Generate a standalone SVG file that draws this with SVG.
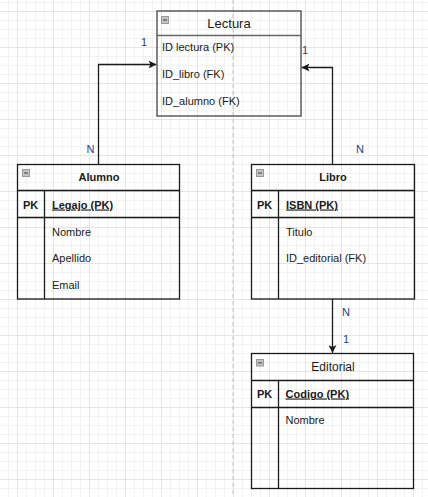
<svg xmlns="http://www.w3.org/2000/svg" width="428" height="497" viewBox="0 0 428 497">
<style>
text{font-family:"Liberation Sans",Arial,sans-serif;fill:#1a1a1a}
.row{font-size:11px}
.pk{font-size:11px;font-weight:bold}
.uk{font-size:11px;font-weight:bold;text-decoration:underline}
.ttl{font-size:11px;font-weight:bold;text-anchor:middle}
.big{font-size:13px;text-anchor:middle}
.mid{font-size:12px;text-anchor:middle}
.lbl{font-size:11px;fill:#1f3f86}
.box{fill:none;stroke:#1a1a1a;stroke-width:1.3}
.box2{fill:none;stroke:#666;stroke-width:1.6}
.ln{stroke:#1a1a1a;stroke-width:1.3;fill:none}
.edge{stroke:#1a1a1a;stroke-width:1.3;fill:none}
.ic{fill:#c4c4c4;stroke:#9a9a9a;stroke-width:1}
.icm{stroke:#555;stroke-width:1.2}
</style>
<defs>
<pattern id="minor" patternUnits="userSpaceOnUse" x="17" y="11" width="9" height="9">
<path d="M0.5 0V9M0 0.5H9" stroke="#f2f2f2" stroke-width="1"/>
</pattern>
<pattern id="major" patternUnits="userSpaceOnUse" x="17" y="11" width="36" height="36">
<path d="M0.5 0V36M0 0.5H36" stroke="#e4e4e4" stroke-width="1"/>
</pattern>
<marker id="arr" viewBox="0 0 10 10" refX="10" refY="5" markerWidth="8" markerHeight="8" markerUnits="userSpaceOnUse" orient="auto">
<path d="M0 0L10 5L0 10L2.5 5Z" fill="#1a1a1a"/>
</marker>
</defs>
<rect width="428" height="497" fill="#fff"/>
<rect width="428" height="497" fill="url(#minor)"/>
<rect width="428" height="497" fill="url(#major)"/>
<line x1="233" y1="0" x2="233" y2="497" stroke="#c4c4c4" stroke-width="1" stroke-dasharray="4 3"/>

<g id="connectors">
<path class="edge" d="M98.5 164.5V64.5H156.5" marker-end="url(#arr)"/>
<path class="edge" d="M332.5 164.5V67.5H301.5" marker-end="url(#arr)"/>
<path class="edge" d="M332.5 299V353" marker-end="url(#arr)"/>
<text class="lbl" x="141" y="45.5">1</text>
<text class="lbl" x="86.5" y="153">N</text>
<text class="lbl" x="302" y="54">1</text>
<text class="lbl" x="356" y="153">N</text>
<text class="lbl" x="342" y="316">N</text>
<text class="lbl" x="343" y="343">1</text>
</g>

<g id="lectura">
<rect class="box2" x="157" y="11" width="144" height="105"/>
<line class="box2" x1="157" y1="35.5" x2="301" y2="35.5"/>
<rect class="ic" x="161.5" y="16.5" width="7" height="7"/>
<line class="icm" x1="163" y1="20" x2="167" y2="20"/>
<text class="big" x="229" y="28">Lectura</text>
<text class="row" x="162" y="51">ID lectura (PK)</text>
<text class="row" x="162" y="78">ID_libro (FK)</text>
<text class="row" x="162" y="105">ID_alumno (FK)</text>
</g>

<g id="alumno">
<rect class="box" x="17.5" y="164.5" width="162" height="134.5"/>
<line class="ln" x1="17.5" y1="190.5" x2="179.5" y2="190.5"/>
<line class="ln" x1="17.5" y1="217.5" x2="179.5" y2="217.5"/>
<line class="ln" x1="44.5" y1="190.5" x2="44.5" y2="299"/>
<rect class="ic" x="22.5" y="169.5" width="7" height="7"/>
<line class="icm" x1="24" y1="173" x2="28" y2="173"/>
<text class="ttl" x="99" y="181">Alumno</text>
<text class="pk" x="23" y="208.5">PK</text>
<text class="uk" x="52" y="208.5">Legajo (PK)</text>
<text class="row" x="52" y="235.5">Nombre</text>
<text class="row" x="52" y="262">Apellido</text>
<text class="row" x="52" y="289">Email</text>
</g>

<g id="libro">
<rect class="box" x="251.5" y="164.5" width="163" height="134.5"/>
<line class="ln" x1="251.5" y1="190.5" x2="414.5" y2="190.5"/>
<line class="ln" x1="251.5" y1="217.5" x2="414.5" y2="217.5"/>
<line class="ln" x1="278.5" y1="190.5" x2="278.5" y2="299"/>
<rect class="ic" x="256.5" y="169.5" width="7" height="7"/>
<line class="icm" x1="258" y1="173" x2="262" y2="173"/>
<text class="ttl" x="333" y="181">Libro</text>
<text class="pk" x="257" y="208.5">PK</text>
<text class="uk" x="286" y="208.5">ISBN (PK)</text>
<text class="row" x="286" y="235.5">Titulo</text>
<text class="row" x="286" y="262">ID_editorial (FK)</text>
</g>

<g id="editorial">
<rect class="box" x="251.5" y="353.5" width="162" height="135"/>
<line class="ln" x1="251.5" y1="380.5" x2="413.5" y2="380.5"/>
<line class="ln" x1="251.5" y1="407.5" x2="413.5" y2="407.5"/>
<line class="ln" x1="278.5" y1="380.5" x2="278.5" y2="488.5"/>
<rect class="ic" x="256.5" y="359.5" width="7" height="6.5"/>
<line class="icm" x1="258" y1="362.8" x2="262" y2="362.8"/>
<text class="mid" x="333" y="370.5">Editorial</text>
<text class="pk" x="257" y="397.5">PK</text>
<text class="uk" x="285.5" y="397.5">Codigo (PK)</text>
<text class="row" x="285.5" y="424">Nombre</text>
</g>
</svg>
